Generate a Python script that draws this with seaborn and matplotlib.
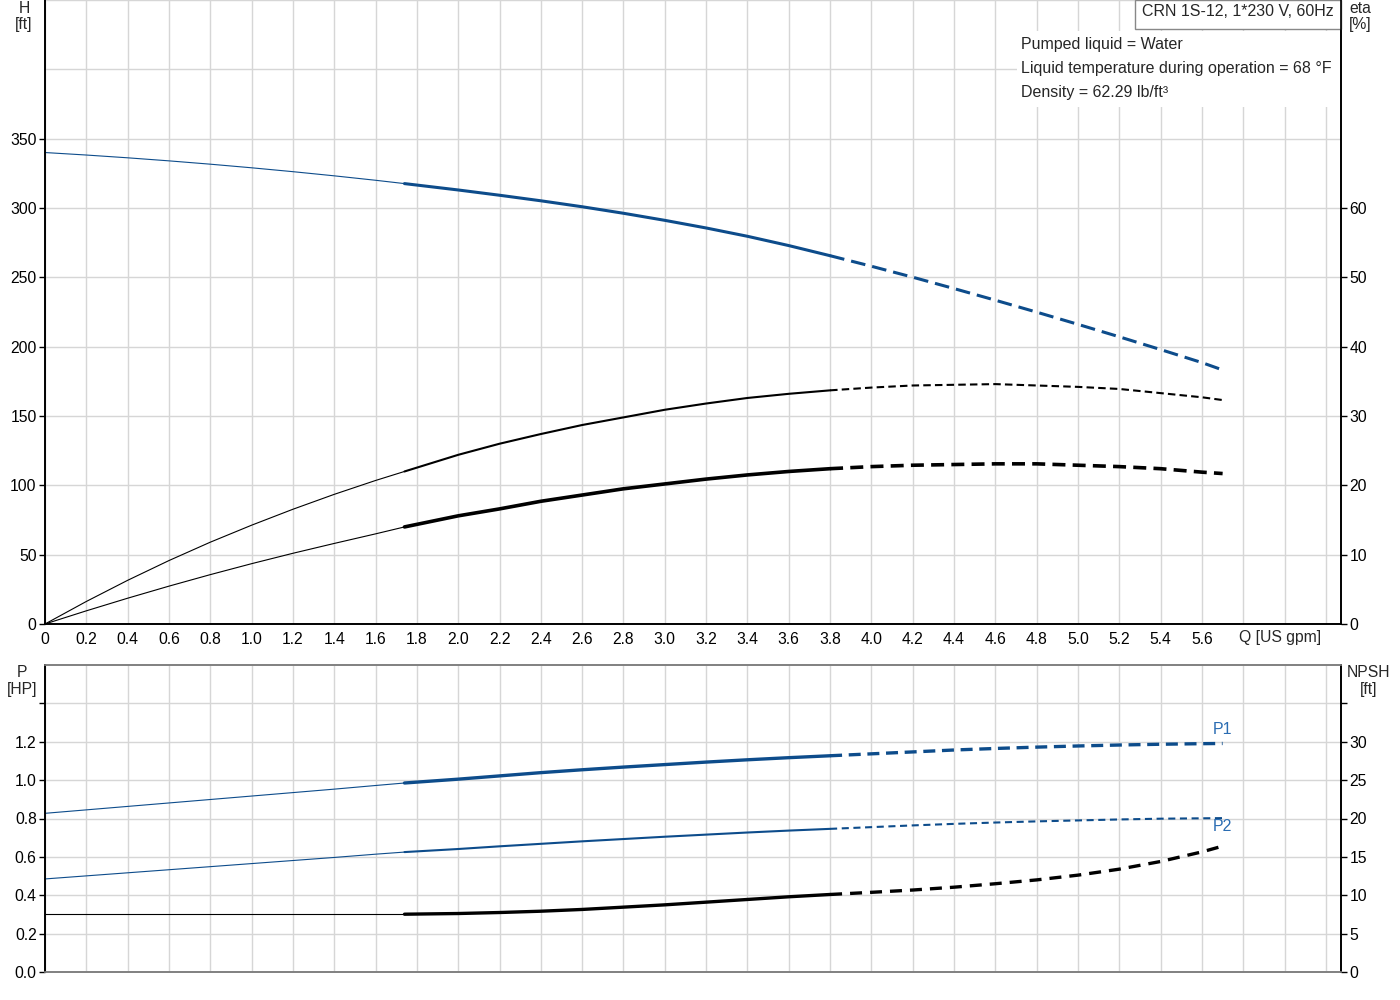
import numpy as np
import pandas as pd
import matplotlib
matplotlib.use("Agg")
import matplotlib.pyplot as plt
from matplotlib.patches import Rectangle
import seaborn as sns

# Flow points (US gpm) shared by all curves
q = [0, 0.2, 0.4, 0.6, 0.8, 1.0, 1.2, 1.4, 1.6, 1.74, 2.0, 2.2, 2.4, 2.6, 2.8, 3.0,
     3.2, 3.4, 3.6, 3.8, 4.0, 4.2, 4.4, 4.6, 4.8, 5.0, 5.2, 5.4, 5.6, 5.7]

# Head [ft]
head = [340, 338.2, 336.2, 334.0, 331.6, 329.0, 326.2, 323.2, 320.0, 317.6, 313.0, 309.2,
        305.2, 300.9, 296.2, 291.1, 285.6, 279.6, 272.9, 265.6, 258.0, 250.1, 241.9, 233.5,
        224.9, 216.1, 207.1, 197.9, 188.5, 183.2]

# Efficiency [%] - upper (thin) and lower (thick) curves
eta_upper = [0, 3.25, 6.3, 9.15, 11.8, 14.25, 16.55, 18.7, 20.7, 22.0, 24.4, 26.0, 27.4,
             28.7, 29.8, 30.9, 31.8, 32.6, 33.2, 33.7, 34.1, 34.4, 34.5, 34.6, 34.4, 34.2,
             33.9, 33.3, 32.7, 32.3]
eta_lower = [0, 1.9, 3.72, 5.46, 7.12, 8.7, 10.2, 11.62, 13.0, 14.0, 15.6, 16.6, 17.7, 18.6,
             19.5, 20.2, 20.9, 21.5, 22.0, 22.4, 22.7, 22.9, 23.0, 23.1, 23.1, 22.9, 22.7,
             22.4, 21.9, 21.7]

# Power [HP]
p1 = [0.827, 0.845, 0.863, 0.881, 0.899, 0.917, 0.935, 0.953, 0.972, 0.985, 1.005, 1.022,
      1.039, 1.054, 1.068, 1.081, 1.094, 1.106, 1.117, 1.127, 1.137, 1.147, 1.157, 1.165,
      1.172, 1.178, 1.183, 1.187, 1.190, 1.191]
p2 = [0.485, 0.501, 0.517, 0.533, 0.549, 0.565, 0.581, 0.597, 0.614, 0.625, 0.641, 0.655,
      0.668, 0.681, 0.693, 0.705, 0.716, 0.727, 0.737, 0.746, 0.755, 0.764, 0.772, 0.779,
      0.785, 0.790, 0.795, 0.799, 0.801, 0.802]

# NPSH [ft]
npsh = [7.53, 7.53, 7.53, 7.53, 7.53, 7.53, 7.53, 7.53, 7.53, 7.53, 7.62, 7.75, 7.92, 8.15,
        8.45, 8.75, 9.1, 9.45, 9.8, 10.1, 10.38, 10.68, 11.05, 11.5, 12.0, 12.62, 13.4,
        14.4, 15.65, 16.4]

x_ticks = [round(0.2 * i, 1) for i in range(32)]
x_labels = ["0"] + ["%.1f" % v for v in x_ticks[1:29]] + ["", "", ""]
info_lines = ["Pumped liquid = Water",
              "Liquid temperature during operation = 68 °F",
              "Density = 62.29 lb/ft³"]

q_start, q_end = 1.74, 3.8
BLUE = "#0d4c8b"
LABEL_BLUE = "#2a6cb2"
GRID = "#d6d6d6"
FS = 11.3

sns.set_style("white")
plt.rcParams["font.family"] = ["Liberation Sans", "DejaVu Sans"]
plt.rcParams["font.size"] = FS

df = pd.DataFrame({"q": q, "head": head, "eta_upper": eta_upper, "eta_lower": eta_lower,
                   "p1": p1, "p2": p2, "npsh": npsh})
thin_part = df[df.q <= q_start]
solid_part = df[(df.q >= q_start) & (df.q <= q_end)]
dash_part = df[df.q >= q_end]


def draw_curve(ax, col, color, lw, dash, thin_lw=0.8):
    sns.lineplot(data=thin_part, x="q", y=col, ax=ax, color=color, lw=thin_lw, sort=False)
    sns.lineplot(data=solid_part, x="q", y=col, ax=ax, color=color, lw=lw, sort=False)
    sns.lineplot(data=dash_part, x="q", y=col, ax=ax, color=color, lw=lw, sort=False,
                 linestyle=(0, dash))


fig = plt.figure(figsize=(14, 10), dpi=100)

# ---------------- top panel: head and efficiency ----------------
ax_h = fig.add_axes([45 / 1400, 1 - 624 / 1000, 1296 / 1400, 624 / 1000])
ax_eta = ax_h.twinx()

ax_h.set_xlim(0, 1296 / 206.6)
ax_h.set_ylim(0, 450)
ax_eta.set_ylim(0, 90)

ax_h.set_xticks(x_ticks)
ax_h.set_xticklabels(x_labels)
ax_h.set_yticks(range(0, 451, 50), minor=True)
ax_h.set_yticks(range(0, 351, 50))
ax_eta.set_yticks(range(0, 61, 10))
ax_h.grid(True, which="both", axis="y", color=GRID, lw=1)
ax_h.grid(True, axis="x", color=GRID, lw=1)
ax_h.tick_params(axis="y", which="minor", length=0)
ax_h.set_axisbelow(True)

draw_curve(ax_h, "head", BLUE, 2.2, (4.8, 2.3))
draw_curve(ax_eta, "eta_upper", "black", 1.5, (3.6, 2.0))
draw_curve(ax_eta, "eta_lower", "black", 2.6, (3.6, 2.0))

for a in (ax_h, ax_eta):
    a.set_xlabel("")
    a.set_ylabel("")
    a.spines["top"].set_visible(False)
    for s in ("left", "right", "bottom"):
        a.spines[s].set_color("black")
        a.spines[s].set_linewidth(1.2)
    a.tick_params(length=4, width=1, pad=2, colors="black", labelsize=FS)

ax_h.text(5.98, -0.0224, "Q [US gpm]", transform=ax_h.get_xaxis_transform(),
          ha="center", va="center", fontsize=FS)

# info box and title box
ax_h.add_patch(Rectangle((1017 / 1400, 1 - 107 / 1000), 324 / 1400, 76 / 1000,
                         transform=fig.transFigure, fc="white", ec="none", zorder=1.5))
for i, line in enumerate(info_lines):
    fig.text(1021 / 1400, 1 - (44 + 24 * i) / 1000, line, ha="left", va="center",
             fontsize=11.5)
ax_h.add_patch(Rectangle((1135 / 1400, 1 - 29 / 1000), 206 / 1400, 29 / 1000,
                         transform=fig.transFigure, fc="white", ec="#888888", lw=1,
                         zorder=3, clip_on=False))
fig.text(1238 / 1400, 1 - 12 / 1000, "CRN 1S-12, 1*230 V, 60Hz", ha="center",
         va="center", fontsize=11.5)

fig.text(24 / 1400, 1 - 16.5 / 1000, "H\n[ft]", ha="center", va="center",
         fontsize=FS, linespacing=1.15)
fig.text(1360 / 1400, 1 - 16.5 / 1000, "eta\n[%]", ha="center", va="center",
         fontsize=FS, linespacing=1.15)

# ---------------- bottom panel: power and NPSH ----------------
ax_p = fig.add_axes([45 / 1400, 1 - 972 / 1000, 1296 / 1400, 307 / 1000])
ax_n = ax_p.twinx()

ax_p.set_xlim(0, 1296 / 206.6)
ax_p.set_ylim(0, 1.6)
ax_n.set_ylim(0, 40)
ax_p.set_xticks(x_ticks)
ax_p.set_xticklabels([])
ax_p.set_yticks([0, 0.2, 0.4, 0.6, 0.8, 1.0, 1.2, 1.4])
ax_p.set_yticklabels(["0.0", "0.2", "0.4", "0.6", "0.8", "1.0", "1.2", ""])
ax_n.set_yticks(range(0, 36, 5))
ax_n.set_yticklabels([str(v) for v in range(0, 31, 5)] + [""])
ax_p.grid(True, color=GRID, lw=1)
ax_p.set_axisbelow(True)

draw_curve(ax_p, "p1", BLUE, 2.4, (3.6, 2.0))
draw_curve(ax_p, "p2", BLUE, 1.5, (3.4, 2.2))
draw_curve(ax_n, "npsh", "black", 2.4, (3.6, 2.4))

ax_p.text(q[-1], p1[-1] + 0.075, "P1", color=LABEL_BLUE, ha="center", va="center",
          fontsize=11.5)
ax_p.text(q[-1], p2[-1] - 0.045, "P2", color=LABEL_BLUE, ha="center", va="center",
          fontsize=11.5)

for a in (ax_p, ax_n):
    a.set_xlabel("")
    a.set_ylabel("")
    for s in ("top", "bottom"):
        a.spines[s].set_color("#808080")
        a.spines[s].set_linewidth(1.2)
    for s in ("left", "right"):
        a.spines[s].set_color("black")
        a.spines[s].set_linewidth(1.2)
    a.tick_params(axis="y", length=4, width=1, pad=2, colors="black", labelsize=FS)
ax_p.tick_params(axis="x", length=0)

fig.text(22 / 1400, 1 - 681 / 1000, "P\n[HP]", ha="center", va="center",
         fontsize=FS, linespacing=1.15)
fig.text(1369 / 1400, 1 - 681 / 1000, "NPSH\n[ft]", ha="center", va="center",
         fontsize=FS, linespacing=1.15)

fig.savefig("out.png", dpi=100)
